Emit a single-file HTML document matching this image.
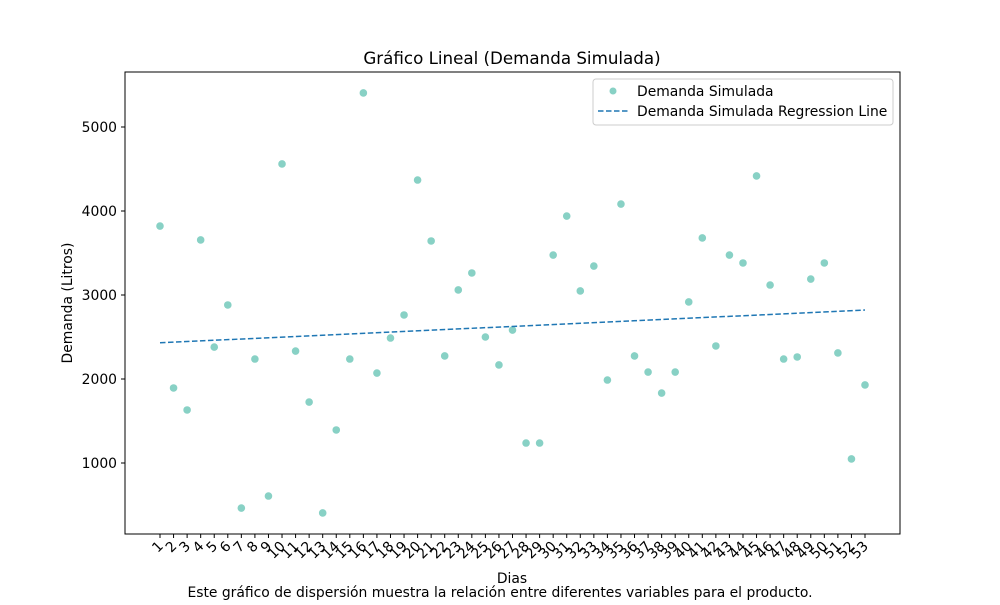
<!DOCTYPE html>
<html><head><meta charset="utf-8"><style>
body{margin:0;background:#fff;}
text{font-family:"DejaVu Sans","Liberation Sans",sans-serif;fill:#000;}
</style></head><body>
<svg id="c" width="1000" height="600" xmlns="http://www.w3.org/2000/svg">
<rect width="1000" height="600" fill="#fff"/>
<text x="512" y="64" font-size="16.7" text-anchor="middle">Gráfico Lineal (Demanda Simulada)</text>
<rect x="125" y="72" width="775" height="462" fill="none" stroke="#000" stroke-width="1"/>
<g id="yt"></g><g id="xt"></g><g id="pts"></g><g id="reg"></g>
<text x="72" y="303" font-size="13.9" text-anchor="middle" transform="rotate(-90 72 303)">Demanda (Litros)</text>
<text x="512" y="583" font-size="13.9" text-anchor="middle">Dias</text>
<text x="500" y="597" font-size="13.9" text-anchor="middle">Este gráfico de dispersión muestra la relación entre diferentes variables para el producto.</text>
<g>
<rect x="593" y="79" width="300" height="46" rx="3" fill="#fff" stroke="#ccc"/>
<circle cx="613" cy="91" r="3.5" fill="#88d1c5"/>
<text x="637" y="96" font-size="13.9">Demanda Simulada</text>
<line x1="598" y1="111" x2="628" y2="111" stroke="#1f77b4" stroke-width="1.5" stroke-dasharray="5.5,2.5"/>
<text x="637" y="116" font-size="13.9">Demanda Simulada Regression Line</text>
</g>
</svg>
<script>
const days=[];for(let i=1;i<=53;i++)days.push(i);
const demand=[3821,1893,1631,3655,2380,2881,464,2238,607,4560,2333,1726,405,1393,2238,5405,2071,2488,2762,4369,3643,2274,3060,3262,2500,2167,2583,1238,1238,3476,3940,3048,3345,1988,4083,2274,2083,1833,2083,2917,3679,2393,3476,3381,4417,3119,2238,2262,3190,3381,2310,1048,1929];
const yTicks=[1000,2000,3000,4000,5000];
const NS="http://www.w3.org/2000/svg";
const xS=d=>160+(d-1)*(705/52);
const yS=v=>463-(v-1000)*0.084;
function mk(t,a,p){const e=document.createElementNS(NS,t);for(const k in a)e.setAttribute(k,a[k]);p.appendChild(e);return e;}
const yt=document.getElementById('yt');
yTicks.forEach(v=>{
 const l=mk('line',{x1:121,x2:125,y1:yS(v),y2:yS(v),stroke:'#000'},yt);
 
 
 const t=mk('text',{x:117,y:yS(v)+5,'font-size':13.9,'text-anchor':'end'},yt);t.textContent=v;
 
 
});
const xt=document.getElementById('xt');
days.forEach(d=>{
 const x=xS(d);
 const l=mk('line',{x1:x,x2:x,y1:534,y2:538,stroke:'#000'},xt);
 
 
 const t=mk('text',{x:x+4,y:547,'font-size':13.9,'text-anchor':'end',transform:`rotate(-45 ${x+4} 547)`},xt);t.textContent=d;
 
 
});
const pts=document.getElementById('pts');
days.forEach((d,i)=>{
 const c=mk('circle',{cx:xS(d),cy:yS(demand[i]),r:3.8,fill:'#88d1c5'},pts);
 
 
});
const n=days.length;let mx=0,my=0;days.forEach((d,i)=>{mx+=d;my+=demand[i];});mx/=n;my/=n;
let sxy=0,sxx=0;days.forEach((d,i)=>{sxy+=(d-mx)*(demand[i]-my);sxx+=(d-mx)*(d-mx);});
const b=sxy/sxx,a=my-b*mx;
const ln=mk('line',{x1:xS(days[0]),y1:yS(a+b*days[0]),x2:xS(days[n-1]),y2:yS(a+b*days[n-1]),stroke:'#1f77b4','stroke-width':1.5,'stroke-dasharray':'5.5,2.5'},document.getElementById('reg'));


</script>
</body></html>
